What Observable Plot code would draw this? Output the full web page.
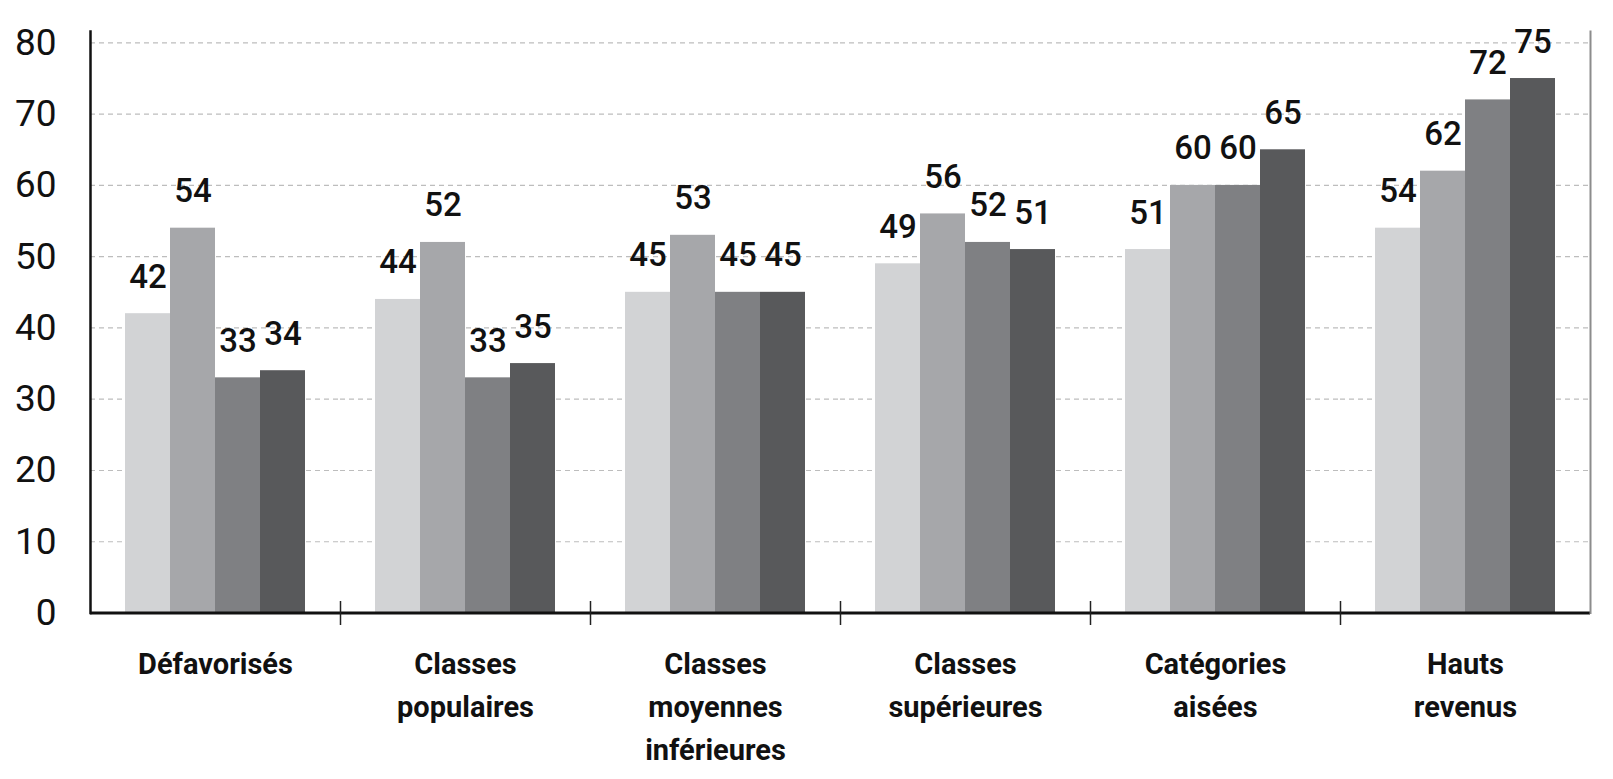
<!DOCTYPE html>
<html>
<head>
<meta charset="utf-8">
<script src="https://cdn.jsdelivr.net/npm/d3@7"></script>
<script src="https://cdn.jsdelivr.net/npm/@observablehq/plot@0.6"></script>
<style>
  html, body { margin: 0; padding: 0; background: #fff; }
</style>
</head>
<body>
<div id="chart"></div>
<script>
const groups = ["Défavorisés", "Classes populaires", "Classes moyennes inférieures", "Classes supérieures", "Catégories aisées", "Hauts revenus"];
const groupLabels = ["Défavorisés", "Classes\npopulaires", "Classes\nmoyennes\ninférieures", "Classes\nsupérieures", "Catégories\naisées", "Hauts\nrevenus"];
const series = ["Série 1", "Série 2", "Série 3", "Série 4"];
const seriesColors = ["#d2d3d5", "#a6a7aa", "#7f8083", "#58595b"];
const values = [
  [42, 54, 33, 34],
  [44, 52, 33, 35],
  [45, 53, 45, 45],
  [49, 56, 52, 51],
  [51, 60, 60, 65],
  [54, 62, 72, 75]
];
const yTicks = [0, 10, 20, 30, 40, 50, 60, 70, 80];

const data = groups.flatMap((g, i) => series.map((s, j) => ({group: g, series: s, value: values[i][j]})));

const tickSymbol = {draw(ctx) { ctx.moveTo(0, -12); ctx.lineTo(0, 12); }};

const chart = Plot.plot({
  width: 1613,
  height: 779,
  marginLeft: 87,
  marginRight: 21,
  marginTop: 31,
  marginBottom: 166.5,
  style: {fontFamily: "Roboto, 'Noto Sans', sans-serif", background: "#fff", color: "#111"},
  fx: {domain: groups, paddingInner: 0, paddingOuter: 0, axis: null},
  x: {domain: series, paddingInner: 0, paddingOuter: 0.77, axis: null},
  y: {domain: [0, 81.6], axis: null},
  color: {domain: series, range: seriesColors},
  marks: [
    Plot.ruleY(yTicks.filter(d => d > 0), {stroke: "#bdbdbd", strokeWidth: 1.2, strokeDasharray: "5,4"}),
    Plot.barY(data, {fx: "group", x: "series", y: "value", fill: "series"}),
    Plot.text(data, {fx: "group", x: "series", y: "value", text: d => String(d.value), dy: -26, lineAnchor: "bottom", fontSize: 33, fontWeight: 500, fill: "#111"}),
    Plot.ruleY([0], {stroke: "#111", strokeWidth: 3}),
    Plot.frame({anchor: "left", facetAnchor: "left", stroke: "#111", strokeWidth: 2.5}),
    Plot.frame({anchor: "right", facetAnchor: "right", stroke: "#8c8c8c", strokeWidth: 2}),
    Plot.dot(groups.slice(1), {fx: d => d, frameAnchor: "bottom-left", symbol: tickSymbol, stroke: "#222", strokeWidth: 1.5, fill: "none"}),
    Plot.text(groups, {fx: d => d, text: (d, i) => groupLabels[i], frameAnchor: "bottom", lineAnchor: "top", dy: 31, fontSize: 29, fontWeight: 700, lineHeight: 1.48, fill: "#111"}),
    Plot.axisY({ticks: yTicks, tickSize: 0, tickPadding: 34, fontSize: 37, label: null, fill: "#111"})
  ]
});
document.getElementById("chart").appendChild(chart);
</script>
</body>
</html>
